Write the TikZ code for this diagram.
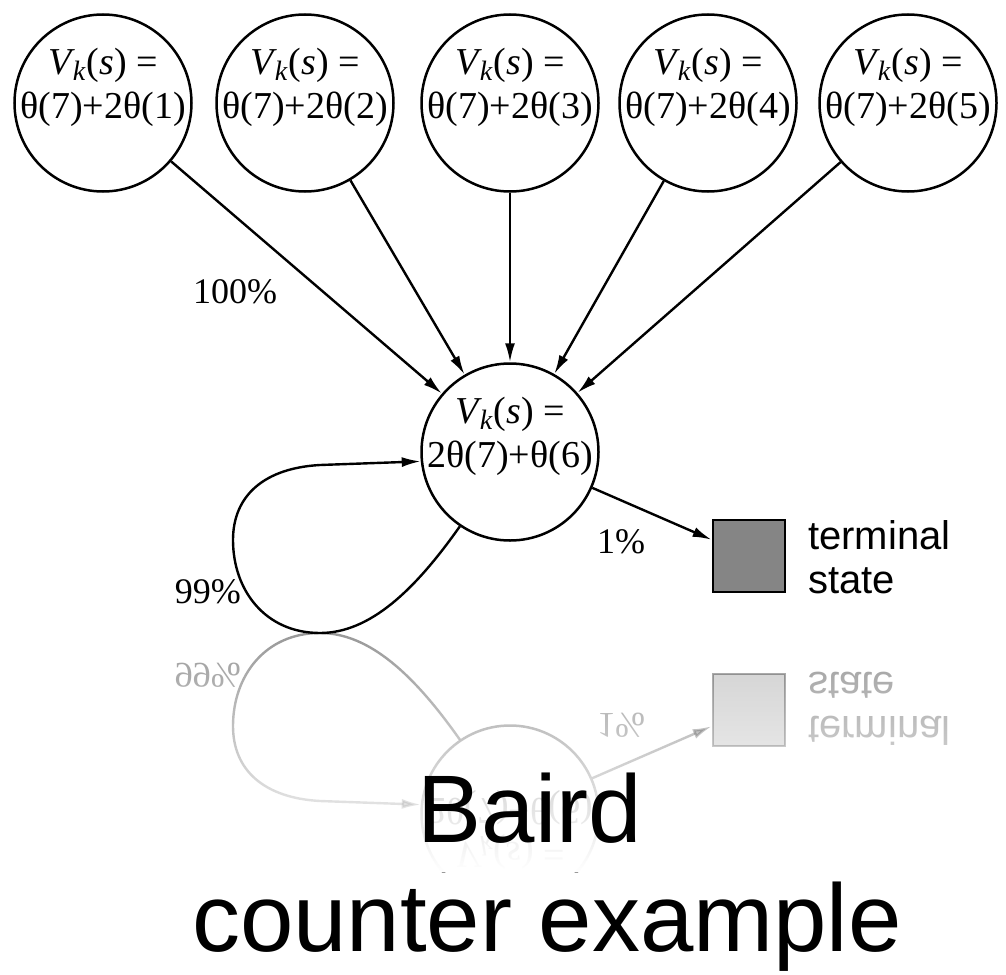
\documentclass[tikz,border=0pt]{standalone}
\usepackage{fontspec}
\setmainfont{Liberation Serif}
\newfontfamily\bairdsans{Liberation Sans}
\usetikzlibrary{arrows.meta,fadings}
\tikzfading[name=reflfade, top color=transparent!100, bottom color=transparent!0]

\tikzset{
  vcirc/.style={circle, draw, line width=2.5pt, minimum size=177pt, inner sep=0pt},
  vtext/.style={align=center, font=\fontsize{38}{44}\selectfont, inner sep=0pt},
  arr/.style={line width=2.4pt, -{Latex[length=19pt,width=10pt]}},
  pct/.style={font=\fontsize{36}{36}\selectfont, inner sep=0pt},
  termbox/.style={draw, line width=2.8pt, fill=black!48, minimum width=72pt, minimum height=72pt, inner sep=0pt},
  termtext/.style={font=\bairdsans\fontsize{40}{44}\selectfont, align=left, inner sep=0pt},
  titletext/.style={font=\bairdsans\fontsize{96}{96}\selectfont, inner sep=0pt},
}

\newcommand{\Vks}{\textit{V}\kern-0.05em\raisebox{-0.35ex}{\fontsize{28}{28}\selectfont\textit{k}}\kern0.03em(\textit{s}) =}

% lower part: middle state, self loop, terminal state
\newcommand{\bairdlower}{%
  \node[vcirc] (mid) at (510,452) {};
  \node[vtext] (tmid) at (510,436) {\Vks\\2θ(7)+θ(6)};
  \node[termbox] (term) at (749,556) {};
  \node[termtext, anchor=west] (termlabel) at (808,557) {terminal\\state};
  \draw[arr] (mid.236) .. controls (415,590) and (370,633) .. (320,633)
     .. controls (265,633) and (233,590) .. (233,540)
     .. controls (233,495) and (265,468) .. (320,465) -- (mid.186);
  \draw[arr] (mid) -- (term);
  \node[pct, anchor=base east] (p99) at (241,603) {99\%};
  \node[pct, anchor=base west] (p1) at (597,553) {1\%};
}

% upper part: five states feeding the middle state
\newcommand{\bairdupper}{%
  \node[vcirc] (c1) at (103,103) {};
  \node[vcirc] (c2) at (305,103) {};
  \node[vcirc] (c3) at (510,103) {};
  \node[vcirc] (c4) at (708,103) {};
  \node[vcirc] (c5) at (908,103) {};
  \node[vtext] (t1) at (103,87) {\Vks\\θ(7)+2θ(1)};
  \node[vtext] (t2) at (305,87) {\Vks\\θ(7)+2θ(2)};
  \node[vtext] (t3) at (510,87) {\Vks\\θ(7)+2θ(3)};
  \node[vtext] (t4) at (708,87) {\Vks\\θ(7)+2θ(4)};
  \node[vtext] (t5) at (908,87) {\Vks\\θ(7)+2θ(5)};
  \foreach \i in {1,...,5} \draw[arr] (c\i) -- (mid);
  \node[pct, anchor=base west] (p100) at (193,303) {100\%};
}

\begin{document}
\begin{tikzpicture}[x=1pt, y=-1pt]
  \useasboundingbox (0,0) rectangle (1006,974);
  \fill[white] (0,0) rectangle (1006,974);
  \bairdlower
  \bairdupper
  % reflection
  \begin{scope}
    \clip (0,633) rectangle (1006,872);
    \begin{scope}[shift={(0,1266)}, yscale=-1, transform shape, opacity=0.4]
      \bairdlower
    \end{scope}
  \end{scope}
  \fill[white, path fading=reflfade] (0,633) rectangle (1006,872);
  % title
  \node[titletext, anchor=base] (baird) at (530,842) {Baird};
  \node[titletext, anchor=base] (cex) at (547,951) {counter example};
\end{tikzpicture}
\end{document}
